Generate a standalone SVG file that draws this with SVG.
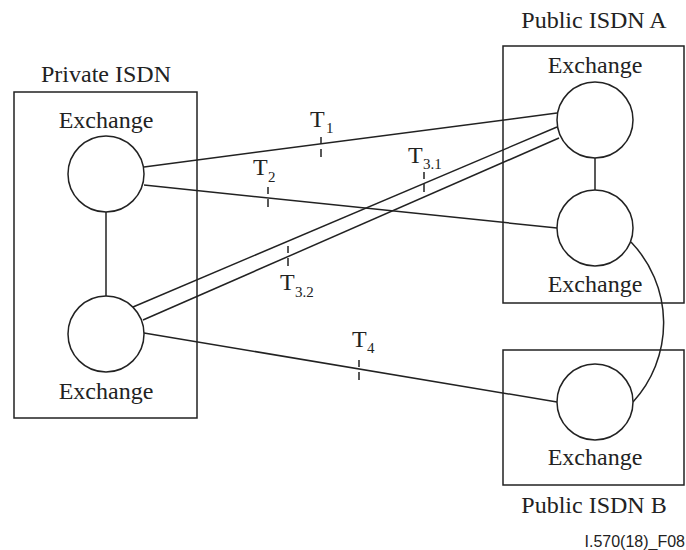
<svg xmlns="http://www.w3.org/2000/svg" width="686" height="550" viewBox="0 0 686 550">
<style>
.box{fill:none;stroke:#222;stroke-width:1.5}
.ex{fill:#fff;stroke:#222;stroke-width:1.5}
.ln{fill:none;stroke:#222;stroke-width:1.5}
.tk{stroke:#222;stroke-width:1.5;stroke-dasharray:7 5 8}
.t{font-size:24px;fill:#222}
.c{text-anchor:middle}
.sub{font-size:15px}
.id{font-size:16px;fill:#222;text-anchor:end}
</style>
<rect width="686" height="550" fill="#fff"/>
<g font-family="Liberation Serif, serif">
<g id="connectors">
<line class="ln" x1="106" y1="212" x2="106" y2="296"/>
<line class="ln" x1="595" y1="158" x2="595" y2="190"/>
<line class="ln" x1="144" y1="167" x2="557" y2="113"/>
<line class="ln" x1="144" y1="185" x2="557" y2="228"/>
<line class="ln" x1="133" y1="307" x2="557" y2="127"/>
<line class="ln" x1="143" y1="320" x2="559" y2="138"/>
<line class="ln" x1="144" y1="333" x2="557" y2="402"/>
<path class="ln" d="M631,242 A117,117 0 0 1 633,402"/>
<line class="tk" x1="321" y1="137" x2="321" y2="157"/>
<line class="tk" x1="268" y1="187" x2="268" y2="207"/>
<line class="tk" x1="424" y1="172" x2="424" y2="192"/>
<line class="tk" x1="288" y1="246" x2="288" y2="266"/>
<line class="tk" x1="359" y1="360" x2="359" y2="380"/>
<text class="t" x="310" y="127">T<tspan class="sub" x="326" y="133">1</tspan></text>
<text class="t" x="253" y="175">T<tspan class="sub" x="268" y="182">2</tspan></text>
<text class="t" x="408" y="163">T<tspan class="sub" x="423" y="169">3.1</tspan></text>
<text class="t" x="280" y="290">T<tspan class="sub" x="295" y="297">3.2</tspan></text>
<text class="t" x="352" y="347">T<tspan class="sub" x="367" y="353">4</tspan></text>
</g>
<g id="private-isdn">
<rect class="box" x="14" y="92" width="183" height="326"/>
<text class="t c" x="106" y="82">Private ISDN</text>
</g>
<g id="private-exchange-1">
<circle class="ex" cx="106" cy="174" r="38"/>
<text class="t c" x="106" y="128">Exchange</text>
</g>
<g id="private-exchange-2">
<circle class="ex" cx="106" cy="334" r="38"/>
<text class="t c" x="106" y="399">Exchange</text>
</g>
<g id="public-isdn-a">
<rect class="box" x="503" y="46" width="181" height="257"/>
<text class="t c" x="594" y="28">Public ISDN A</text>
</g>
<g id="public-a-exchange-1">
<circle class="ex" cx="595" cy="120" r="38"/>
<text class="t c" x="595" y="73">Exchange</text>
</g>
<g id="public-a-exchange-2">
<circle class="ex" cx="595" cy="228" r="38"/>
<text class="t c" x="595" y="292">Exchange</text>
</g>
<g id="public-isdn-b">
<rect class="box" x="503" y="350" width="181" height="135"/>
<text class="t c" x="594" y="513">Public ISDN B</text>
</g>
<g id="public-b-exchange">
<circle class="ex" cx="595" cy="402" r="38"/>
<text class="t c" x="595" y="465">Exchange</text>
</g>
</g>
<text class="id" font-family="Liberation Sans, sans-serif" x="685" y="547">I.570(18)_F08</text>
</svg>
